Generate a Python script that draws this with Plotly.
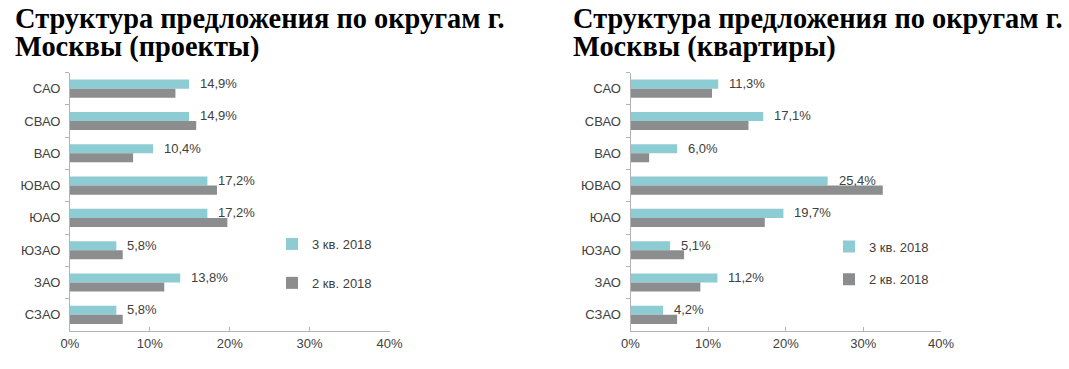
import plotly.graph_objects as go

districts = ["САО", "СВАО", "ВАО", "ЮВАО", "ЮАО", "ЮЗАО", "ЗАО", "СЗАО"]

# Left chart: projects
proj_q3 = [14.9, 14.9, 10.4, 17.2, 17.2, 5.8, 13.8, 5.8]
proj_q2 = [13.2, 15.8, 7.9, 18.4, 19.7, 6.6, 11.8, 6.6]

# Right chart: apartments
flat_q3 = [11.3, 17.1, 6.0, 25.4, 19.7, 5.1, 11.2, 4.2]
flat_q2 = [10.5, 15.2, 2.4, 32.5, 17.3, 6.9, 9.0, 6.0]

series_names = ["3 кв. 2018", "2 кв. 2018"]
title_line1 = "Структура предложения по округам г."
title_left_line2 = "Москвы (проекты)"
title_right_line2 = "Москвы (квартиры)"
x_ticks = [0, 10, 20, 30, 40]

C_Q3 = "#8DCCD3"
C_Q2 = "#8C8D8F"
AXIS_C = "#B3B3B3"
TXT_C = "#404040"
FONT = "Liberation Sans, Arial, sans-serif"

W, H = 1069, 369

def fmt(v):
    return f"{v:.1f}".replace(".", ",") + "%"

fig = go.Figure()

panels = [
    ("x", "y", proj_q3, proj_q2, "legend", "l"),
    ("x2", "y2", flat_q3, flat_q2, "legend2", "r"),
]
for xa, ya, q3, q2, leg, tag in panels:
    fig.add_trace(go.Bar(
        y=districts, x=q3, orientation="h", name=series_names[0],
        marker=dict(color=C_Q3, line=dict(width=0)), xaxis=xa, yaxis=ya,
        legend=leg, legendgroup=tag + "3", hoverinfo="skip"))
    fig.add_trace(go.Bar(
        y=districts, x=q2, orientation="h", name=series_names[1],
        marker=dict(color=C_Q2, line=dict(width=0)), xaxis=xa, yaxis=ya,
        legend=leg, legendgroup=tag + "2", hoverinfo="skip"))

annotations = []
for xa, ya, q3 in [("x", "y", proj_q3), ("x2", "y2", flat_q3)]:
    for d, v in zip(districts, q3):
        annotations.append(dict(
            x=v, y=d, xref=xa, yref=ya, text=fmt(v), showarrow=False,
            xanchor="left", yanchor="middle", xshift=9, yshift=5,
            font=dict(family=FONT, size=13, color=TXT_C)))

# Titles (two tight lines, as in the reference)
for x0, l2 in [(13, title_left_line2), (571, title_right_line2)]:
    for txt, yc in [(title_line1, 18), (l2, 47)]:
        annotations.append(dict(
            x=x0 / W, y=1 - yc / H, xref="paper", yref="paper", text="<b>" + txt + "</b>",
            showarrow=False, xanchor="left", yanchor="middle",
            font=dict(family="Liberation Serif, Times New Roman, serif", size=28.4, color="#000000")))

xaxis_common = dict(
    range=[0, 40], tickvals=x_ticks, ticktext=[f"{t}%" for t in x_ticks],
    showline=True, linecolor=AXIS_C, linewidth=1, showgrid=False, zeroline=False,
    ticks="inside", ticklen=4, tickcolor=AXIS_C, tickwidth=1, automargin=False,
    tickfont=dict(family=FONT, size=13, color=TXT_C), fixedrange=True)
yaxis_common = dict(
    categoryorder="array", categoryarray=districts, autorange="reversed",
    showline=True, linecolor=AXIS_C, linewidth=1, showgrid=False, zeroline=False,
    ticks="outside", ticklen=4, tickcolor=AXIS_C, tickwidth=1, tickson="boundaries",
    ticklabelstandoff=6, automargin=False,
    tickfont=dict(family=FONT, size=13, color=TXT_C), fixedrange=True)

ybot = 1 - 331 / H
ytop = 1 - 72.5 / H

fig.update_layout(
    width=W, height=H, margin=dict(l=0, r=0, t=0, b=0, autoexpand=False),
    paper_bgcolor="white", plot_bgcolor="white",
    barmode="group", bargap=0.44, bargroupgap=0,
    xaxis=dict(xaxis_common, domain=[70 / W, 389.5 / W], anchor="y"),
    yaxis=dict(yaxis_common, domain=[ybot, ytop], anchor="x"),
    xaxis2=dict(xaxis_common, domain=[630.5 / W, 941 / W], anchor="y2"),
    yaxis2=dict(yaxis_common, domain=[ybot, ytop], anchor="x2"),
    legend=dict(x=272 / W, y=1 - 229 / H, xanchor="left", yanchor="top",
                font=dict(family=FONT, size=13, color=TXT_C), tracegroupgap=19,
                bgcolor="rgba(0,0,0,0)", itemwidth=30, traceorder="grouped"),
    legend2=dict(x=829 / W, y=1 - 231.5 / H, xanchor="left", yanchor="top",
                 font=dict(family=FONT, size=13, color=TXT_C), tracegroupgap=13,
                 bgcolor="rgba(0,0,0,0)", itemwidth=30, traceorder="grouped"),
    annotations=annotations,
    showlegend=True,
)

fig.write_html("out.html", config={"displayModeBar": False},
               post_script="document.body.style.margin='0px';")
